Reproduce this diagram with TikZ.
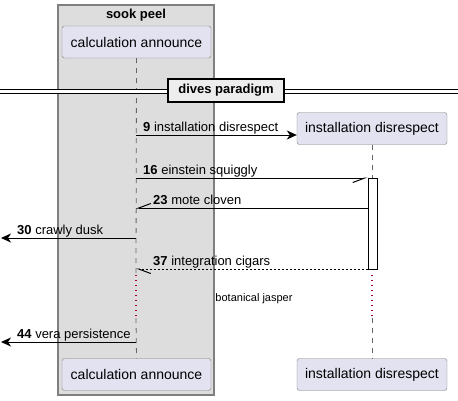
\documentclass[tikz,border=0pt]{standalone}
\usepackage{fontspec}
\setmainfont{Liberation Sans}
\usepackage{tikz}
\usetikzlibrary{arrows.meta,positioning}

\definecolor{partfill}{HTML}{E2E2F0}
\definecolor{partline}{HTML}{7F7F7F}
\definecolor{groupfill}{HTML}{DDDDDD}
\definecolor{lifegray}{HTML}{666666}
\definecolor{delayred}{HTML}{A80036}

\tikzset{
    participant/.style={draw=partline, fill=partfill, rounded corners=2.5pt, minimum width=149pt, minimum height=32pt, inner sep=0pt, font=\fontsize{14}{16}\selectfont},
    lifeline/.style={lifegray, line width=0.8pt, dash pattern=on 5pt off 5pt},
    delayline/.style={delayred, line width=1.2pt, dash pattern=on 1pt off 4pt},
    msg/.style={line width=1pt},
    msglabel/.style={anchor=base west, inner sep=0pt, font=\fontsize{13}{15}\selectfont},
    full/.style={-{Stealth[length=10pt, width=9pt, inset=3pt]}},
}

\begin{document}
\begin{tikzpicture}[x=1pt, y=-1pt]
        \useasboundingbox (0,0) rectangle (458,400);
        % group
        \draw [partline, fill=groupfill, line width=1.5pt] (58,5) rectangle (214,395);
        \node [font=\fontsize{13}{15}\selectfont\bfseries] (grp) at (136,15) {sook peel};

        % lifelines
        \coordinate (calcD1) at (136,275);
        \coordinate (calcD2) at (136,318);
        \coordinate (instD1) at (372,275);
        \coordinate (instD2) at (372,318);
        \node [participant] (calcTop) at (136.5,42) {calculation announce};
        \node [participant, minimum width=150pt] (instTop) at (372,128.5) {installation disrespect};
        \node [participant] (calcBot) at (136.5,374.5) {calculation announce};
        \node [participant, minimum width=150pt] (instBot) at (372,374.5) {installation disrespect};
        \draw [lifeline] (calcTop.south) -- (calcD1);
        \draw [delayline] (calcD1) -- (calcD2);
        \draw [lifeline] (calcD2) -- (calcBot.north);
        \draw [lifeline] (instTop.south) -- (instD1);
        \draw [delayline] (instD1) -- (instD2);
        \draw [lifeline] (instD2) -- (instBot.north);

        % divider
        \draw [double distance=3pt, line width=1pt] (0,91) -- (458,91);
        \node [draw, line width=2pt, fill=black!7, minimum width=116pt, minimum height=23pt, inner sep=0pt, font=\fontsize{13}{15}\selectfont\bfseries] (div) at (226,90.5) {dives paradigm};

        % activation
        \node [draw, fill=white, line width=1pt, minimum width=9pt, minimum height=91pt, inner sep=0pt] (act) at (372.5,223.5) {};

        % messages
        \coordinate (m9) at (136,135);
        \coordinate (m16) at (136,178);
        \coordinate (m23) at (136,208);
        \coordinate (m30) at (136,238);
        \coordinate (m37) at (136,269);
        \coordinate (m44) at (136,342);
        \coordinate (out30) at (1,238);
        \coordinate (out44) at (1,342);
        \draw [msg, full] (m9) -- (instTop.west |- m9);
        \draw [msg, -{Straight Barb[right, length=12pt, width=9pt]}] (m16) -- (act.west |- m16);
        \draw [msg, -{Straight Barb[right, length=12pt, width=9pt]}] (act.west |- m23) -- (m23);
        \draw [msg, full] (m30) -- (out30);
        \draw [msg, dash pattern=on 2pt off 2pt, -{Straight Barb[left, length=12pt, width=9pt, sep=0pt]}] (act.west |- m37) -- (m37);
        \draw [msg, full] (m44) -- (out44);

        \node [msglabel] (t9) at (143,131) {\textbf{9} installation disrespect};
        \node [msglabel] (t16) at (143,174) {\textbf{16} einstein squiggly};
        \node [msglabel] (t23) at (153,204) {\textbf{23} mote cloven};
        \node [msglabel] (t30) at (17,234) {\textbf{30} crawly dusk};
        \node [msglabel] (t37) at (153,265) {\textbf{37} integration cigars};
        \node [msglabel] (t44) at (17,338) {\textbf{44} vera persistence};

        % delay
        \node [font=\fontsize{11}{13}\selectfont, inner sep=0pt] (delay) at (254,299) {botanical jasper};
\end{tikzpicture}
\end{document}
